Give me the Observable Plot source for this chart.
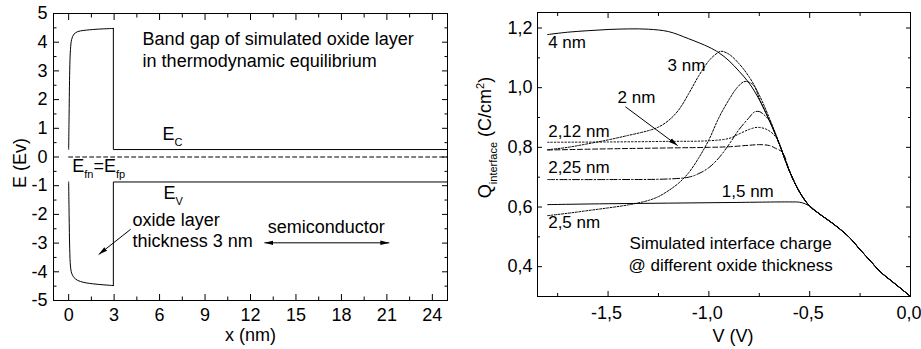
<!DOCTYPE html>
<html>
<head>
<meta charset="utf-8">
<script src="https://cdn.jsdelivr.net/npm/d3@7"></script>
<script src="https://cdn.jsdelivr.net/npm/@observablehq/plot@0.6"></script>
<style>
  html, body { margin: 0; padding: 0; background: #fff; }
  #wrap { position: relative; width: 921px; height: 349px; overflow: hidden; background: #fff; }
  #left { position: absolute; left: 0; top: 0; width: 470px; height: 349px; }
  #right { position: absolute; left: 470px; top: 0; width: 451px; height: 349px; }
</style>
</head>
<body>
<div id="wrap"><div id="left"></div><div id="right"></div></div>
<script>
// ---------------- Left panel: band diagram (x in nm, E in eV) ----------------
const ecX = [0, 0.03, 0.07, 0.12, 0.2, 0.35, 0.6, 1.0, 1.8, 2.95];
const ecE = [0.27, 1.5, 3.0, 3.75, 4.1, 4.28, 4.37, 4.41, 4.45, 4.48];
const ecStepX = [2.95, 2.95, 25];
const ecStepE = [4.48, 0.26, 0.26];
const evX = [0, 0.03, 0.07, 0.12, 0.2, 0.35, 0.6, 1.0, 1.8, 2.95];
const evE = [-0.87, -2.0, -3.2, -3.8, -4.05, -4.2, -4.3, -4.37, -4.43, -4.48];
const evStepX = [2.95, 2.95, 25];
const evStepE = [-4.48, -0.87, -0.87];
const efX = [0, 25];
const efE = [0, 0];
const leftXTicks = [0, 3, 6, 9, 12, 15, 18, 21, 24];
const leftXMinor = [1.5, 4.5, 7.5, 10.5, 13.5, 16.5, 19.5, 22.5];
const leftYTicks = [-5, -4, -3, -2, -1, 0, 1, 2, 3, 4, 5];
const leftYMinor = [-4.5, -3.5, -2.5, -1.5, -0.5, 0.5, 1.5, 2.5, 3.5, 4.5];

// ---------------- Right panel: interface charge vs voltage ----------------
// common trunk (4 nm curve, which all others join)
const trunkV = [-1.8, -1.7, -1.6, -1.5, -1.4, -1.3, -1.2, -1.1, -1.0, -0.95, -0.9, -0.85, -0.8, -0.75, -0.7, -0.65, -0.6, -0.55, -0.5, -0.45, -0.4, -0.35, -0.3, -0.25, -0.2, -0.15, -0.1, -0.05, 0];
const trunkQ = [1.178, 1.186, 1.191, 1.195, 1.197, 1.196, 1.188, 1.164, 1.136, 1.117, 1.09, 1.055, 1.015, 0.96, 0.89, 0.81, 0.72, 0.65, 0.603, 0.576, 0.552, 0.526, 0.496, 0.457, 0.42, 0.383, 0.355, 0.328, 0.300];
const q3V = [-1.8, -1.7, -1.6, -1.5, -1.4, -1.3, -1.25, -1.2, -1.15, -1.1, -1.05, -1.0, -0.97, -0.94, -0.9, -0.85, -0.8, -0.75, -0.7, -0.65];
const q3Q = [0.792, 0.80, 0.812, 0.825, 0.84, 0.856, 0.868, 0.89, 0.925, 0.98, 1.04, 1.09, 1.11, 1.122, 1.112, 1.08, 1.036, 0.975, 0.898, 0.812];
const q2V = [-1.8, -1.5, -1.2, -1.0, -0.9, -0.8, -0.75, -0.7, -0.67, -0.635];
const q2Q = [0.791, 0.795, 0.798, 0.80, 0.802, 0.807, 0.809, 0.806, 0.797, 0.783];
const q212V = [-1.8, -1.5, -1.2, -1.0, -0.9, -0.85, -0.8, -0.76, -0.72, -0.69, -0.665];
const q212Q = [0.817, 0.818, 0.82, 0.822, 0.83, 0.845, 0.86, 0.867, 0.862, 0.85, 0.832];
const q225V = [-1.8, -1.5, -1.2, -1.1, -1.05, -1.0, -0.95, -0.9, -0.85, -0.8, -0.775, -0.75, -0.72, -0.7];
const q225Q = [0.692, 0.692, 0.694, 0.70, 0.712, 0.732, 0.765, 0.81, 0.86, 0.9, 0.918, 0.92, 0.905, 0.89];
const q25V = [-1.8, -1.7, -1.6, -1.5, -1.4, -1.3, -1.25, -1.2, -1.15, -1.1, -1.05, -1.0, -0.95, -0.9, -0.86, -0.826, -0.8, -0.775, -0.745];
const q25Q = [0.571, 0.579, 0.588, 0.597, 0.607, 0.622, 0.635, 0.655, 0.68, 0.715, 0.765, 0.825, 0.9, 0.96, 1.0, 1.02, 1.018, 1.005, 0.955];
const q15V = [-1.8, -1.5, -1.2, -0.9, -0.6, -0.55, -0.52, -0.49];
const q15Q = [0.608, 0.611, 0.613, 0.615, 0.617, 0.616, 0.61, 0.598];
const rightXTicks = [-1.5, -1.0, -0.5, 0];
const rightXMinor = [-1.75, -1.25, -0.75, -0.25];
const rightYTicks = [0.4, 0.6, 0.8, 1.0, 1.2];
const rightYMinor = [0.5, 0.7, 0.9, 1.1];

// ---------------- helpers ----------------
const FONT = "'Liberation Sans', Arial, Helvetica, sans-serif";
const FS = 18, FS_NOTE = 17, SUB = 11;
const INK = "#000";
const NS = "http://www.w3.org/2000/svg";

const rows = (xs, ys) => xs.map((x, i) => ({x, y: ys[i]}));
const withTrunk = (hv, hq) => {
  const last = hv[hv.length - 1];
  const r = rows(hv, hq);
  trunkV.forEach((v, i) => { if (v > last + 1e-9) r.push({x: v, y: trunkQ[i]}); });
  return r;
};
const comma = d => d.toFixed(1).replace(".", ",");

function filledHead(color, context) {
  const doc = (context && context.document) || document;
  const m = doc.createElementNS(NS, "marker");
  m.setAttribute("viewBox", "-9 -3 9 6");
  m.setAttribute("markerWidth", "9");
  m.setAttribute("markerHeight", "6");
  m.setAttribute("markerUnits", "userSpaceOnUse");
  m.setAttribute("refX", "0");
  m.setAttribute("refY", "0");
  m.setAttribute("orient", "auto-start-reverse");
  const p = doc.createElementNS(NS, "path");
  p.setAttribute("d", "M0,0L-9,-2.3L-9,2.3Z");
  p.setAttribute("fill", color);
  p.setAttribute("stroke", "none");
  m.appendChild(p);
  return m;
}

function arrowMarks(x1, y1, x2, y2, both, custom) {
  if (custom) {
    return [Plot.link([0], {x1, y1, x2, y2, stroke: INK, strokeWidth: 1,
      markerEnd: filledHead, markerStart: both ? filledHead : undefined})];
  }
  if (both) {
    const mx = (x1 + x2) / 2, my = (y1 + y2) / 2;
    return [
      Plot.arrow([0], {x1: mx, y1: my, x2, y2, stroke: INK, headLength: 8, headAngle: 35}),
      Plot.arrow([0], {x1: mx, y1: my, x2: x1, y2: y1, stroke: INK, headLength: 8, headAngle: 35})
    ];
  }
  return [Plot.arrow([0], {x1, y1, x2, y2, stroke: INK, headLength: 8, headAngle: 35})];
}

function insideTicks(xMaj, xMin, yMaj, yMin, L, l) {
  const o = {fill: "none", label: null, stroke: INK};
  return [
    Plot.axisX(xMaj, {...o, anchor: "bottom", tickSize: L, dy: -L}),
    Plot.axisX(xMin, {...o, anchor: "bottom", tickSize: l, dy: -l}),
    Plot.axisX(xMaj, {...o, anchor: "top", tickSize: L, dy: L}),
    Plot.axisX(xMin, {...o, anchor: "top", tickSize: l, dy: l}),
    Plot.axisY(yMaj, {...o, anchor: "left", tickSize: L, dx: L}),
    Plot.axisY(yMin, {...o, anchor: "left", tickSize: l, dx: l}),
    Plot.axisY(yMaj, {...o, anchor: "right", tickSize: L, dx: -L}),
    Plot.axisY(yMin, {...o, anchor: "right", tickSize: l, dx: -l})
  ];
}

function richText(svg) {
  svg.querySelectorAll("text").forEach(node => {
    if (node.querySelector("tspan")) return;
    const s = node.textContent;
    if (!/[_^]\{/.test(s)) return;
    const parts = [];
    const re = /([_^])\{([^}]*)\}/g;
    let last = 0, m;
    while ((m = re.exec(s))) {
      if (m.index > last) parts.push([s.slice(last, m.index), 0]);
      parts.push([m[2], m[1] === "_" ? 1 : -1]);
      last = re.lastIndex;
    }
    if (last < s.length) parts.push([s.slice(last), 0]);
    node.textContent = "";
    let shift = 0;
    for (const [t, mode] of parts) {
      const ts = document.createElementNS(NS, "tspan");
      ts.textContent = t;
      const target = mode === 1 ? 6 : mode === -1 ? -7 : 0;
      if (target !== shift) ts.setAttribute("dy", String(target - shift));
      shift = target;
      if (mode) ts.setAttribute("font-size", String(SUB));
      node.appendChild(ts);
    }
  });
}

const baseStyle = {fontFamily: FONT, fontSize: FS + "px", color: INK, background: "transparent", overflow: "visible"};
const lineOpts = {x: "x", y: "y", stroke: INK, strokeWidth: 1};
const note = {textAnchor: "start", lineAnchor: "bottom", fill: INK};

function leftPlot(custom) {
  return Plot.plot({
    width: 470, height: 349,
    marginLeft: 53, marginRight: 23, marginTop: 13, marginBottom: 49,
    style: baseStyle,
    x: {domain: [-1, 25], axis: null},
    y: {domain: [-5, 5], axis: null},
    marks: [
      ...insideTicks(leftXTicks, leftXMinor, leftYTicks, leftYMinor, 6, 3.5),
      Plot.axisX(leftXTicks, {anchor: "bottom", tickSize: 0, tickPadding: 8, tickFormat: d => String(d), label: null, fill: INK}),
      Plot.axisY(leftYTicks, {anchor: "left", tickSize: 0, tickPadding: 6, tickFormat: d => String(d), label: null, fill: INK}),
      Plot.text(["x (nm)"], {frameAnchor: "bottom", textAnchor: "middle", dy: 40, lineAnchor: "bottom", fill: INK}),
      Plot.text(["E (Ev)"], {frameAnchor: "left", textAnchor: "middle", dx: -28, dy: 6, rotate: -90, lineAnchor: "bottom", fill: INK}),
      Plot.line(rows(efX, efE), {...lineOpts, strokeDasharray: "4,3"}),
      Plot.line(rows(ecX, ecE), {...lineOpts, curve: "catmull-rom"}),
      Plot.line(rows(ecStepX, ecStepE), lineOpts),
      Plot.line(rows(evX, evE), {...lineOpts, curve: "catmull-rom"}),
      Plot.line(rows(evStepX, evStepE), lineOpts),
      Plot.text(["Band gap of simulated oxide layer\nin thermodynamic equilibrium"], {...note, x: 4.88, y: 3.13, lineHeight: 1.22}),
      Plot.text(["E_{C}"], {...note, x: 6.2, y: 0.58}),
      Plot.text(["E_{V}"], {...note, x: 6.26, y: -1.48}),
      Plot.text(["E_{fn}=E_{fp}"], {...note, x: 0.24, y: -0.535}),
      Plot.text(["oxide layer\nthickness 3 nm"], {...note, x: 4.22, y: -3.15, lineHeight: 1.17}),
      Plot.text(["semiconductor"], {...note, x: 13.14, y: -2.66}),
      ...arrowMarks(4.09, -2.52, 1.98, -3.40, false, custom),
      ...arrowMarks(12.92, -2.99, 21.16, -2.99, true, custom),
      Plot.frame({stroke: INK})
    ]
  });
}

function rightPlot(custom) {
  const rn = {...note, fontSize: FS_NOTE};
  return Plot.plot({
    width: 451, height: 349,
    marginLeft: 67, marginRight: 11, marginTop: 12, marginBottom: 53,
    style: baseStyle,
    x: {domain: [-1.85, 0], axis: null},
    y: {domain: [0.3, 1.252], axis: null},
    marks: [
      ...insideTicks(rightXTicks, rightXMinor, rightYTicks, rightYMinor, 5, 3),
      Plot.axisX(rightXTicks, {anchor: "bottom", tickSize: 0, tickPadding: 10, tickFormat: comma, label: null, fill: INK, dx: -1.5}),
      Plot.axisY(rightYTicks, {anchor: "left", tickSize: 0, tickPadding: 5, tickFormat: comma, label: null, fill: INK}),
      Plot.text(["V (V)"], {frameAnchor: "bottom", textAnchor: "middle", dx: 9, dy: 45, lineAnchor: "bottom", fill: INK}),
      Plot.text(["Q_{interface} (C/cm^{2})"], {frameAnchor: "left", textAnchor: "middle", dx: -47, dy: -17, rotate: -90, lineAnchor: "bottom", fill: INK}),
      Plot.line(trunkV.map((v, i) => ({x: v, y: trunkQ[i]})), {...lineOpts, curve: "catmull-rom"}),
      Plot.line(withTrunk(q15V, q15Q), {...lineOpts, curve: "catmull-rom"}),
      Plot.line(withTrunk(q3V, q3Q), {...lineOpts, curve: "catmull-rom", strokeDasharray: "2,1.5"}),
      Plot.line(withTrunk(q2V, q2Q), {...lineOpts, curve: "catmull-rom", strokeDasharray: "5,2.5"}),
      Plot.line(withTrunk(q212V, q212Q), {...lineOpts, curve: "catmull-rom", strokeDasharray: "1.5,2"}),
      Plot.line(withTrunk(q225V, q225Q), {...lineOpts, curve: "catmull-rom", strokeDasharray: "7,2,1.5,2"}),
      Plot.line(withTrunk(q25V, q25Q), {...lineOpts, curve: "catmull-rom", strokeDasharray: "2,1.5"}),
      Plot.text(["4 nm"], {...rn, x: -1.797, y: 1.134}),
      Plot.text(["3 nm"], {...rn, x: -1.205, y: 1.057}),
      Plot.text(["2 nm"], {...rn, x: -1.453, y: 0.950}),
      Plot.text(["2,12 nm"], {...rn, x: -1.797, y: 0.833}),
      Plot.text(["2,25 nm"], {...rn, x: -1.797, y: 0.715}),
      Plot.text(["1,5 nm"], {...rn, x: -0.936, y: 0.635}),
      Plot.text(["2,5 nm"], {...rn, x: -1.797, y: 0.528}),
      Plot.text(["Simulated interface charge\n@ different oxide thickness"], {...rn, x: -0.892, y: 0.387, textAnchor: "middle", lineHeight: 1.25}),
      ...arrowMarks(-1.414, 0.936, -1.155, 0.806, false, custom),
      Plot.frame({stroke: INK})
    ]
  });
}

let L, R;
try { L = leftPlot(true); R = rightPlot(true); }
catch (e) { L = leftPlot(false); R = rightPlot(false); }
richText(L); richText(R);
document.getElementById("left").appendChild(L);
document.getElementById("right").appendChild(R);
</script>
</body>
</html>
